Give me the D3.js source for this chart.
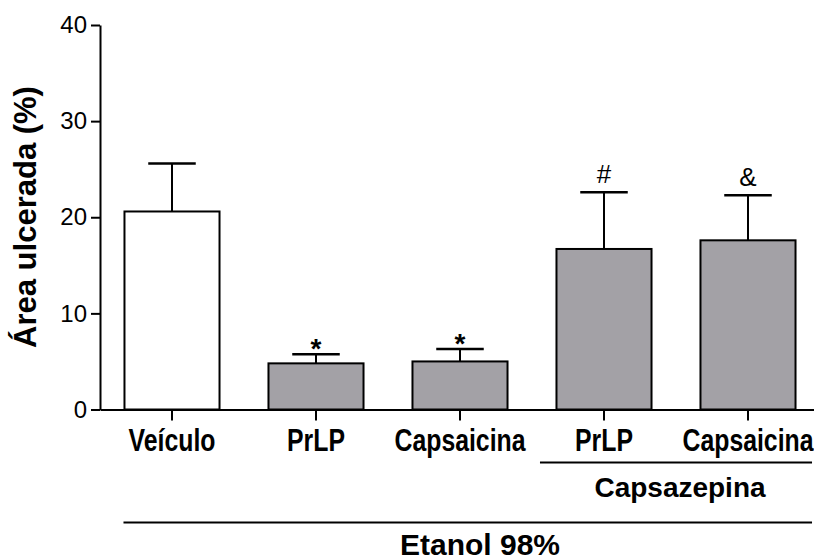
<!DOCTYPE html>
<html>
<head>
	<meta charset="utf-8">
	<title>Área ulcerada</title>
	<script src="https://cdn.jsdelivr.net/npm/d3@7/dist/d3.min.js"></script>
	<style>
		body { margin: 0; background: #fff; }
		svg text { font-family: "Liberation Sans", Arial, sans-serif; fill: #000; }
		.xlab { font-weight: bold; font-size: 31px; }
	</style>
</head>
<body>
<script>
// Data
var groups = ["Veículo", "PrLP", "Capsaicina", "PrLP", "Capsaicina"];
var means = [20.6, 4.8, 5.0, 16.7, 17.6];
var sems = [5.0, 0.95, 1.3, 5.9, 4.7];
var marks = ["", "*", "*", "#", "&"];
var yTicks = [0, 10, 20, 30, 40];

var width = 814, height = 560;
var svg = d3.select("body").append("svg")
	.attr("width", width)
	.attr("height", height);

var idx = d3.range(groups.length);
var x = d3.scaleBand().domain(idx).range([100, 820])
	.paddingInner(0.34).paddingOuter(0.17);
var y = d3.scaleLinear().domain([0, 40]).range([409.5, 25]);
var bw = x.bandwidth();

// bars
svg.selectAll("rect.bar").data(idx).enter().append("rect")
	.attr("class", "bar")
	.attr("x", function(i) { return x(i); })
	.attr("y", function(i) { return y(means[i]); })
	.attr("width", bw)
	.attr("height", function(i) { return y(0) - y(means[i]); })
	.attr("fill", function(i) { return i == 0 ? "#fff" : "#a3a1a6"; })
	.attr("stroke", "#000")
	.attr("stroke-width", 2);

// upper error bars
var eb = svg.selectAll("g.err").data(idx).enter().append("g").attr("class", "err");
eb.append("line")
	.attr("x1", function(i) { return x(i) + bw / 2; })
	.attr("x2", function(i) { return x(i) + bw / 2; })
	.attr("y1", function(i) { return y(means[i]); })
	.attr("y2", function(i) { return y(means[i] + sems[i]); })
	.attr("stroke", "#000").attr("stroke-width", 2);
eb.append("line")
	.attr("x1", function(i) { return x(i) + bw / 4; })
	.attr("x2", function(i) { return x(i) + bw * 3 / 4; })
	.attr("y1", function(i) { return y(means[i] + sems[i]); })
	.attr("y2", function(i) { return y(means[i] + sems[i]); })
	.attr("stroke", "#000").attr("stroke-width", 2.5);

// significance marks
svg.selectAll("text.mark").data(idx.filter(function(i) { return marks[i]; }))
	.enter().append("text")
	.attr("class", "mark")
	.attr("x", function(i) { return x(i) + bw / 2; })
	.attr("y", function(i) {
		var c = y(means[i] + sems[i]);
		return marks[i] == "*" ? c + 4 : c - 9;
	})
	.attr("text-anchor", "middle")
	.attr("font-size", function(i) { return marks[i] == "*" ? "28px" : "26px"; })
	.attr("font-weight", function(i) { return marks[i] == "*" ? "bold" : "normal"; })
	.text(function(i) { return marks[i]; });

// y axis
var yAxis = svg.append("g")
	.attr("transform", "translate(100,0)")
	.call(d3.axisLeft(y).tickValues(yTicks).tickSize(9).tickSizeOuter(0).tickPadding(4));
yAxis.select(".domain").attr("stroke", "#000").attr("stroke-width", 2);
yAxis.selectAll(".tick line").attr("stroke", "#000").attr("stroke-width", 2);
yAxis.selectAll(".tick text")
	.attr("font-size", "24px")
	.attr("fill", "#000");

// x axis
var xAxis = svg.append("g")
	.attr("transform", "translate(0," + y(0) + ")")
	.call(d3.axisBottom(x).tickSize(11).tickSizeOuter(0).tickFormat(""));
xAxis.select(".domain").attr("stroke", "#000").attr("stroke-width", 2);
xAxis.selectAll(".tick line").attr("stroke", "#000").attr("stroke-width", 2);

// condensed category labels
svg.selectAll("g.xlab").data(idx).enter().append("g")
	.attr("transform", function(i) { return "translate(" + (x(i) + bw / 2) + ",451) scale(0.8,1)"; })
	.append("text")
	.attr("class", "xlab")
	.attr("text-anchor", "middle")
	.text(function(i) { return groups[i]; });

// y title
svg.append("text")
	.attr("transform", "translate(36,217) rotate(-90)")
	.attr("text-anchor", "middle")
	.attr("font-size", "31px")
	.attr("font-weight", "bold")
	.text("Área ulcerada (%)");

// group brackets
svg.append("line")
	.attr("x1", x(3) - 16.5).attr("x2", x(4) + bw + 16.5)
	.attr("y1", 462.5).attr("y2", 462.5)
	.attr("stroke", "#000").attr("stroke-width", 2);
svg.append("text")
	.attr("x", (x(3) + x(4) + bw) / 2 + 4)
	.attr("y", 497)
	.attr("text-anchor", "middle")
	.attr("font-size", "28px")
	.attr("font-weight", "bold")
	.text("Capsazepina");

svg.append("line")
	.attr("x1", x(0) - 1).attr("x2", x(4) + bw + 16.5)
	.attr("y1", 522.5).attr("y2", 522.5)
	.attr("stroke", "#000").attr("stroke-width", 2);
svg.append("text")
	.attr("x", x(2) + bw / 2 + 20)
	.attr("y", 555)
	.attr("text-anchor", "middle")
	.attr("font-size", "30px")
	.attr("font-weight", "bold")
	.text("Etanol 98%");
</script>
</body>
</html>
